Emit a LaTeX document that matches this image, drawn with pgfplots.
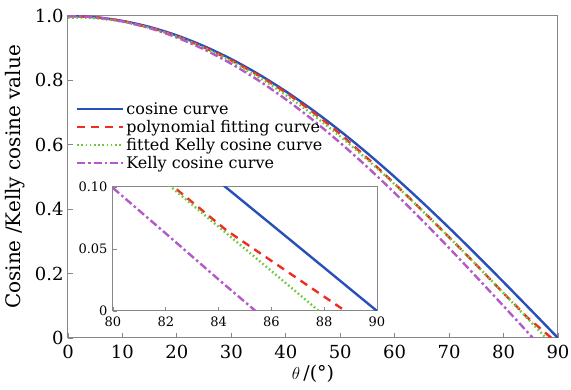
\documentclass[border=0pt]{standalone}
\usepackage{fontspec}
\setmainfont{DejaVu Serif}
\usepackage{pgfplots}
\pgfplotsset{compat=1.18}
\definecolor{cblue}{RGB}{40,80,185}
\definecolor{cred}{RGB}{240,45,35}
\definecolor{cgreen}{RGB}{110,200,60}
\definecolor{cpurple}{RGB}{180,90,200}
\definecolor{axgray}{RGB}{135,135,135}
\pgfplotsset{
  cosstyle/.style={cblue, line width=2.4pt, solid},
  polystyle/.style={cred, line width=2.4pt, dash pattern=on 8pt off 6pt},
  fitstyle/.style={cgreen, line width=2.4pt, dash pattern=on 1.6pt off 2.6pt},
  kellystyle/.style={cpurple, line width=2.4pt, dash pattern=on 8pt off 3pt on 2.5pt off 3pt},
}
\begin{document}
\begin{tikzpicture}
\begin{axis}[
  name=main,
  scale only axis, width=490pt, height=322pt,
  xmin=0, xmax=90, ymin=0, ymax=1,
  xtick={0,10,...,90},
  ytick={0,0.2,0.4,0.6,0.8,1.0},
  yticklabels={0,0.2,0.4,0.6,0.8,1.0},
  tick align=inside, xtick pos=bottom, ytick pos=left,
  major tick length=5pt,
  axis line style={axgray, line width=1pt},
  tick style={axgray, line width=0.8pt},
  tick label style={font=\fontsize{18}{20}\selectfont},
  yticklabel style={xshift=-1pt},
  xticklabel style={yshift=-4pt},
  /pgf/number format/assume math mode=true,
  xlabel={$\theta$\,/(°)},
  ylabel={Cosine /Kelly cosine value},
  xlabel style={font=\fontsize{19}{21}\selectfont, yshift=1pt},
  ylabel style={font=\fontsize{20}{22}\selectfont, yshift=3pt},
  legend style={draw=none, fill=none, at={(rel axis cs:0.014,0.742)}, anchor=north west,
    font=\fontsize{16}{18}\selectfont, row sep=0.5pt, inner sep=1pt},
  legend cell align=left,
  legend image code/.code={\draw[#1] (0pt,0pt) -- (46pt,0pt);},
]
\addplot[cosstyle, smooth] coordinates {
(0,1) (5,0.99619) (10,0.98481) (15,0.96593) (20,0.93969) (25,0.90631)
(30,0.86603) (35,0.81915) (40,0.76604) (45,0.70711) (50,0.64279)
(55,0.57358) (60,0.5) (65,0.42262) (70,0.34202) (75,0.25882)
(80,0.17365) (85,0.08716) (90,0)};
\addlegendentry{cosine curve}
\addplot[polystyle, smooth] coordinates {
(0,1) (5,0.996) (10,0.984) (15,0.964) (20,0.937) (25,0.902)
(30,0.862) (35,0.815) (40,0.762) (45,0.701) (50,0.633)
(55,0.558) (60,0.479) (65,0.397) (70,0.313) (75,0.227)
(80,0.139) (82.3,0.100) (84.3,0.065) (86.55,0.0325) (88.8,0)};
\addlegendentry{polynomial fitting curve}
\addplot[fitstyle, smooth] coordinates {
(0,0.995) (5,0.993) (10,0.982) (15,0.963) (20,0.936) (25,0.901)
(30,0.8594) (35,0.8103) (40,0.7547) (45,0.6930) (50,0.6259)
(55,0.5537) (60,0.4772) (65,0.3967) (70,0.3131) (75,0.2270)
(80,0.1391) (82.3,0.0982) (84.3,0.0626) (85,0.0501) (87.8,0)};
\addlegendentry{fitted Kelly cosine curve}
\addplot[kellystyle, smooth] coordinates {
(0,1) (5,0.99577) (10,0.98313) (15,0.96218) (20,0.93311) (25,0.89613)
(30,0.85157) (35,0.79977) (40,0.74126) (45,0.67660) (50,0.60610)
(55,0.53050) (60,0.45040) (65,0.36650) (70,0.27950) (75,0.19010)
(80,0.09920) (85,0.00736) (85.4,0)};
\addlegendentry{Kelly cosine curve}
\end{axis}
\begin{axis}[
  at={(45pt,27pt)}, anchor=south west,
  scale only axis, width=264pt, height=124pt,
  xmin=80, xmax=90, ymin=0, ymax=0.1,
  xtick={80,82,...,90},
  ytick={0,0.05,0.1},
  yticklabels={0,0.05,0.10},
  tick align=inside, xtick pos=bottom, ytick pos=left,
  major tick length=4pt,
  axis line style={axgray, line width=1pt},
  tick style={axgray, line width=0.8pt},
  tick label style={font=\fontsize{13}{15}\selectfont},
  yticklabel style={xshift=-2pt},
  xticklabel style={yshift=-2pt},
  /pgf/number format/assume math mode=true,
  axis background/.style={fill=white},
  clip=true,
]
\addplot[cosstyle] coordinates {(84,0.10453) (86,0.06976) (88,0.0349) (90,0)};
\addplot[polystyle] coordinates {(82,0.1052) (82.3,0.100) (84.3,0.065) (86.55,0.0325) (88.8,0)};
\addplot[fitstyle] coordinates {(82,0.1035) (82.3,0.0982) (84.3,0.0626) (85,0.0501) (86.5,0.0233) (87.8,0)};
\addplot[kellystyle] coordinates {(80,0.0992) (82,0.0625) (84,0.0254) (85.4,0)};
\end{axis}
\pgfresetboundingbox
\useasboundingbox (-68pt,-52pt) rectangle (503pt,338pt);
\end{tikzpicture}
\end{document}
